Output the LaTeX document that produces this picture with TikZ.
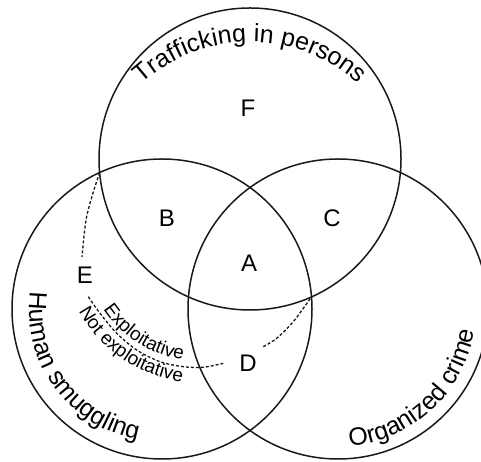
\documentclass[tikz,border=0pt]{standalone}
\usepackage{fontspec}
\setmainfont{Liberation Sans}
\usetikzlibrary{decorations.text}
\begin{document}
\begin{tikzpicture}[x=1pt,y=1pt,
  ring/.style={line width=1.5pt, draw=black!90},
  lbl/.style={font=\fontsize{24}{28}\selectfont, inner sep=0pt},
  sep/.style={line width=1.3pt, draw=black!90, dash pattern=on 3pt off 2pt},
  curvetext/.style={decorate, decoration={text along path, text align=center, text={#1}}}]
\useasboundingbox (0,0) rectangle (481,462);
\clip (0,0) rectangle (481,462);
\fill[white] (0,0) rectangle (481,462);
% circle centres
\coordinate (cT) at (250,303);
\coordinate (cL) at (162,153);
\coordinate (cR) at (338,153);
\coordinate (cX) at (200,217);
% circles
\draw[ring] (cT) circle[radius=151];
\draw[ring] (cL) circle[radius=150];
\draw[ring] (cR) circle[radius=150];
% region labels
\node[lbl] (F) at (248,354) {F};
\node[lbl] (B) at (167,244) {B};
\node[lbl] (C) at (332,244) {C};
\node[lbl] (A) at (249,199) {A};
\node[lbl] (D) at (248,99) {D};
\node[lbl] (E) at (85,187) {E};
% dashed divider (between the two intersections of the top and left circles)
\coordinate (i1) at (99.7,289.4);
\coordinate (i2) at (311.5,165.2);
\coordinate (e1) at (82,205);
\coordinate (e2) at (88.3,165.3);
\coordinate (d1) at (223.3,98.7);
\coordinate (d2) at (263.3,115.3);
\draw[sep] plot[smooth] coordinates {(i1) (93,269) (86,242) (e1)};
\draw[sep] plot[smooth] coordinates {(e2) (100,148.7) (116.7,128.7) (136.7,112) (160,100.3) (183.3,95.3) (203.3,94.7) (d1)};
\draw[sep] plot[smooth] coordinates {(d2) (276.7,123.7) (293.3,140.3) (i2)};
% curved texts
\path[curvetext={|\fontsize{25}{29}\selectfont|Trafficking in persons}]
  (250,260) ++(150:160) arc[start angle=150, end angle=30, radius=160];
\path[curvetext={|\fontsize{25}{29}\selectfont|Human smuggling}]
  (cL) ++(168:133) arc[start angle=168, end angle=264, radius=133];
\path[curvetext={|\fontsize{25}{29}\selectfont|Organized crime}]
  (cR) ++(-87:138) arc[start angle=-87, end angle=-7, radius=138];
\path[curvetext={|\fontsize{19}{23}\selectfont|Exploitative}]
  (cX) ++(200:116) arc[start angle=200, end angle=275, radius=116];
\path[curvetext={|\fontsize{19}{23}\selectfont|Not exploitative}]
  (cX) ++(199:138) arc[start angle=199, end angle=272, radius=138];
\end{tikzpicture}
\end{document}
